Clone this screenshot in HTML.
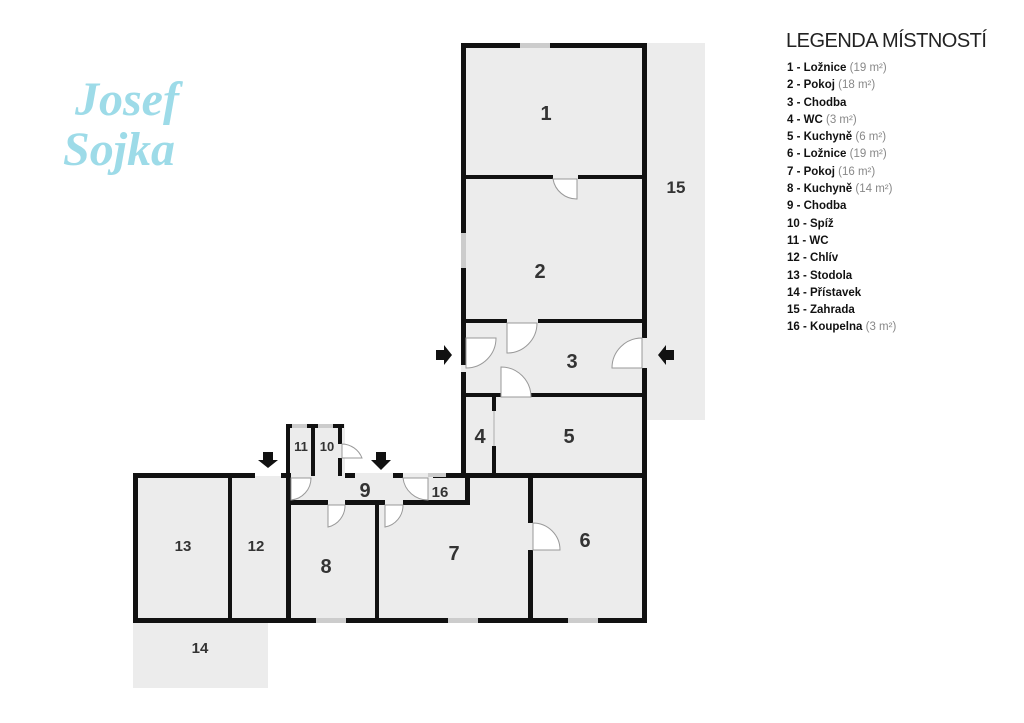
<!DOCTYPE html>
<html><head><meta charset="utf-8"><style>
body{margin:0;background:#fff;width:1024px;height:723px;overflow:hidden;font-family:"Liberation Sans",sans-serif}
.lg{position:absolute;left:787px;font-size:11.5px;font-weight:bold;color:#111;line-height:17.3px}
.lg span{font-weight:normal;color:#888}
</style></head><body>
<svg width="1024" height="723" style="position:absolute;left:0;top:0">
<g fill="#ececec">
<rect x="647" y="43" width="58" height="377"/>
<rect x="133" y="622" width="135" height="66"/>
<rect x="461" y="43" width="186" height="435"/>
<rect x="133" y="473" width="514" height="149"/>
<rect x="287" y="424" width="58" height="52"/>
</g>
<g fill="#111">
<rect x="461" y="43" width="186" height="5"/>
<rect x="461" y="43" width="5" height="322"/>
<rect x="461" y="372" width="5" height="106"/>
<rect x="642" y="43" width="5" height="295"/>
<rect x="642" y="368" width="5" height="255"/>
<rect x="461" y="175" width="92" height="4"/>
<rect x="578" y="175" width="69" height="4"/>
<rect x="461" y="319" width="46" height="4"/>
<rect x="538" y="319" width="109" height="4"/>
<rect x="461" y="393" width="40" height="4"/>
<rect x="531" y="393" width="116" height="4"/>
<rect x="492" y="393" width="4" height="18"/>
<rect x="492" y="446" width="4" height="30"/>
<rect x="133" y="473" width="5" height="149"/>
<rect x="133" y="473" width="122" height="5"/>
<rect x="281" y="473" width="10" height="5"/>
<rect x="345" y="473" width="10" height="5"/>
<rect x="393" y="473" width="10" height="5"/>
<rect x="433" y="473" width="214" height="5"/>
<rect x="133" y="618" width="514" height="5"/>
<rect x="228" y="473" width="4" height="150"/>
<rect x="286" y="473" width="5" height="150"/>
<rect x="286" y="424" width="4" height="52"/>
<rect x="286" y="424" width="58" height="4"/>
<rect x="311" y="424" width="4" height="52"/>
<rect x="338" y="424" width="4" height="20"/>
<rect x="338" y="458" width="4" height="18"/>
<rect x="286" y="500" width="42" height="5"/>
<rect x="345" y="500" width="40" height="5"/>
<rect x="403" y="500" width="67" height="5"/>
<rect x="465" y="473" width="5" height="32"/>
<rect x="375" y="500" width="4" height="123"/>
<rect x="528" y="473" width="5" height="50"/>
<rect x="528" y="550" width="5" height="73"/>
</g>
<g fill="#ccc">
<rect x="520" y="43" width="30" height="5"/><rect x="461" y="233" width="5" height="35"/>
<rect x="316" y="618" width="30" height="5"/><rect x="448" y="618" width="30" height="5"/><rect x="568" y="618" width="30" height="5"/>
<rect x="428" y="473" width="18" height="4"/><rect x="493" y="411" width="2" height="35"/>
<rect x="292" y="424" width="15" height="4"/><rect x="318" y="424" width="15" height="4"/>
</g>
<g fill="#fff" stroke="#999" stroke-width="1">
<path d="M466 338 h30 a30 30 0 0 1 -30 30z"/>
<path d="M507 323 v30 a30 30 0 0 0 30 -30z"/>
<path d="M501 397 h30 a30 30 0 0 0 -30 -30z"/>
<path d="M642 338 v30 h-30 a30 30 0 0 1 30 -30z"/>
<path d="M553 179 h24 v20 a24 24 0 0 1 -24 -20z"/>
<path d="M533 523 v27 h27 a27 27 0 0 0 -27 -27z"/>
<path d="M291 478 v22 a22 22 0 0 0 20 -22z"/>
<path d="M328 505 v22 a22 22 0 0 0 17 -22z"/>
<path d="M385 505 v22 a22 22 0 0 0 18 -22z"/>
<path d="M342 444 v14 h20 a22 22 0 0 0 -20 -14z"/>
<path d="M403 478 h25 v22 a25 25 0 0 1 -25 -22z"/>
<path d="M255 458 h26 v18 h-26z" stroke="none"/>
</g>
<g fill="#111">
<path d="M436 350h8v-5l8 10-8 10v-5h-8z"/>
<path d="M674 350h-8v-5l-8 10 8 10v-5h8z"/>
<path d="M263 452v8h-5l10 8 10-8h-5v-8z"/>
<path d="M376 452h10v8h5l-10 10-10-10h5z"/>
</g>
<g font-family="Liberation Sans" font-weight="bold" font-size="20" fill="#333" text-anchor="middle">
<text x="546" y="120">1</text><text x="540" y="278">2</text><text x="572" y="368">3</text>
<text x="480" y="443">4</text><text x="569" y="443">5</text><text x="585" y="547">6</text>
<text x="454" y="560">7</text><text x="326" y="573">8</text><text x="365" y="497">9</text>
<text x="676" y="193" font-size="17">15</text><text x="183" y="551" font-size="15">13</text>
<text x="256" y="551" font-size="15">12</text><text x="200" y="653" font-size="15">14</text>
<text x="440" y="497" font-size="15">16</text><text x="301" y="451" font-size="13">11</text>
<text x="327" y="451" font-size="13">10</text>
</g>
<g font-family="Liberation Serif" font-style="italic" font-weight="bold" font-size="48" fill="#9ddbe8">
<text x="75" y="115">Josef</text><text x="63" y="165">Sojka</text>
</g>
</svg>
<div style="position:absolute;left:786px;top:30px;font-size:20px;color:#222;letter-spacing:-0.5px">LEGENDA MÍSTNOSTÍ</div>
<div class="lg" style="top:60px">
1 - Ložnice <span>(19 m²)</span><br>2 - Pokoj <span>(18 m²)</span><br>3 - Chodba<br>4 - WC <span>(3 m²)</span><br>5 - Kuchyně <span>(6 m²)</span><br>6 - Ložnice <span>(19 m²)</span><br>7 - Pokoj <span>(16 m²)</span><br>8 - Kuchyně <span>(14 m²)</span><br>9 - Chodba<br>10 - Spíž<br>11 - WC<br>12 - Chlív<br>13 - Stodola<br>14 - Přístavek<br>15 - Zahrada<br>16 - Koupelna <span>(3 m²)</span>
</div>
</body></html>
